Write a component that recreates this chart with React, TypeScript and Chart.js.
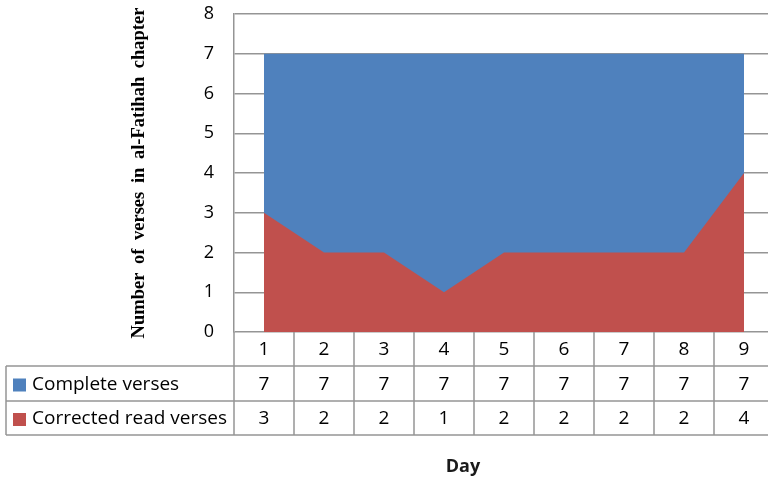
import React, { useEffect, useRef } from "react";
import { Chart, registerables } from "chart.js";

Chart.register(...registerables);

const days = ["1", "2", "3", "4", "5", "6", "7", "8", "9"];
const completeVerses = [7, 7, 7, 7, 7, 7, 7, 7, 7];
const correctedVerses = [3, 2, 2, 1, 2, 2, 2, 2, 4];
const seriesNames = ["Complete verses", "Corrected read verses"];
const seriesColors = ["#4F81BD", "#C0504D"];
const yTitle = "Number of verses in al-Fatihah chapter";
const xTitle = "Day";

const GRID = "#959595";
const TEXT_FONT = "19px 'Open Sans', sans-serif";

const spacingPlugin = {
  id: "titleSpacing",
  beforeDraw(chart: any) {
    (chart.ctx as any).wordSpacing = "4px";
  },
};

const tablePlugin = {
  id: "dataTable",
  afterDraw(chart: any) {
    const { ctx, chartArea } = chart;
    const xs = chart.scales.x;
    const colW = xs.getPixelForValue(1) - xs.getPixelForValue(0);
    const top = chartArea.bottom;
    const rowY = [top, top + 34, top + 69, top + 103];
    const tableLeft = 6;
    const right = chartArea.right;
    ctx.save();
    (ctx as any).wordSpacing = "0px";
    ctx.strokeStyle = GRID;
    ctx.lineWidth = 1.5;
    ctx.beginPath();
    for (let r = 1; r < rowY.length; r++) {
      ctx.moveTo(tableLeft, rowY[r]);
      ctx.lineTo(right, rowY[r]);
    }
    for (let i = 0; i <= days.length; i++) {
      const x = xs.getPixelForValue(i) - colW / 2;
      ctx.moveTo(x, rowY[0]);
      ctx.lineTo(x, rowY[3]);
    }
    ctx.moveTo(tableLeft, rowY[1]);
    ctx.lineTo(tableLeft, rowY[3]);
    ctx.stroke();

    ctx.fillStyle = "#000";
    ctx.font = TEXT_FONT;
    ctx.textBaseline = "middle";
    ctx.textAlign = "center";
    const rows = [days, completeVerses.map(String), correctedVerses.map(String)];
    rows.forEach((row, r) => {
      const cy = (rowY[r] + rowY[r + 1]) / 2 + 1;
      row.forEach((v, i) => {
        ctx.fillText(v, xs.getPixelForValue(i), cy);
      });
    });
    ctx.textAlign = "left";
    seriesNames.forEach((name, k) => {
      const cy = (rowY[k + 1] + rowY[k + 2]) / 2 + 1;
      ctx.fillStyle = seriesColors[k];
      ctx.fillRect(13, cy - 6, 13, 13);
      ctx.fillStyle = "#000";
      ctx.fillText(name, 32, cy);
    });
    ctx.textAlign = "center";
    ctx.font = "bold 18px 'Open Sans', sans-serif";
    ctx.fillStyle = "#1a1a1a";
    ctx.fillText(xTitle, 463, 467);
    ctx.restore();
  },
};

export default function App() {
  const ref = useRef<HTMLCanvasElement>(null);
  useEffect(() => {
    if (!ref.current) return;
    const chart = new Chart(ref.current, {
      type: "line",
      data: {
        labels: days,
        datasets: [
          {
            label: seriesNames[0],
            data: completeVerses,
            backgroundColor: seriesColors[0],
            borderColor: seriesColors[0],
            borderWidth: 0,
            pointRadius: 0,
            fill: "origin",
            tension: 0,
            order: 1,
          },
          {
            label: seriesNames[1],
            data: correctedVerses,
            backgroundColor: seriesColors[1],
            borderColor: seriesColors[1],
            borderWidth: 0,
            pointRadius: 0,
            fill: "origin",
            tension: 0,
            order: 0,
          },
        ],
      },
      plugins: [spacingPlugin, tablePlugin],
      options: {
        responsive: false,
        animation: false,
        layout: { padding: { top: 14, right: 6, bottom: 148, left: 0 } },
        plugins: {
          legend: { display: false },
          tooltip: { enabled: false },
        },
        scales: {
          x: {
            type: "category",
            offset: true,
            grid: { display: false },
            border: { display: false },
            ticks: { display: false },
            afterFit(scale: any) {
              scale.height = 0;
              scale.paddingLeft = 0;
              scale.paddingRight = 0;
            },
          },
          y: {
            min: 0,
            max: 8,
            ticks: {
              stepSize: 1,
              padding: 20,
              color: "#000",
              font: { family: "'Open Sans', sans-serif", size: 18 },
            },
            grid: { color: GRID, lineWidth: 1.5, drawTicks: false },
            border: { color: GRID, width: 1.5 },
            title: {
              display: true,
              text: yTitle,
              color: "#000",
              font: { family: "'Liberation Serif', serif", size: 18.5, weight: "bold" },
              padding: { top: 128, bottom: 0 },
            },
            afterFit(scale: any) {
              scale.width = 234;
              scale.paddingTop = 0;
              scale.paddingBottom = 0;
            },
          },
        },
      },
    });
    return () => chart.destroy();
  }, []);
  return (
    <div style={{ position: "fixed", left: 0, top: 0, width: 768, height: 480, overflow: "hidden", background: "#fff" }}>
      <canvas ref={ref} width={780} height={480} style={{ width: 780, height: 480, display: "block" }} />
    </div>
  );
}
